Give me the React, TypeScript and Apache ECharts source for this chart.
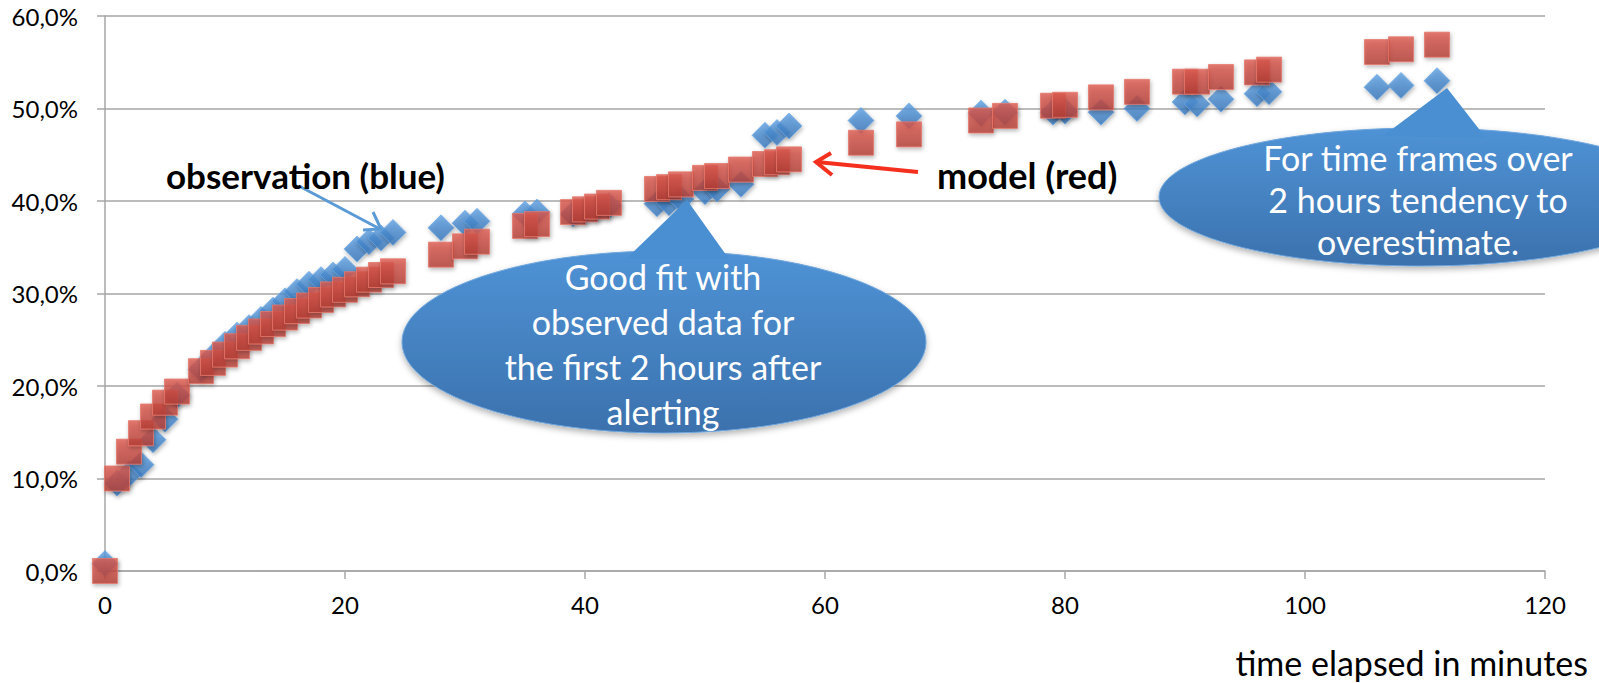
import React, { useEffect, useRef } from "react";
import * as echarts from "echarts";

const minutes = [0, 1, 2, 3, 4, 5, 6, 8, 9, 10, 11, 12, 13, 14, 15, 16, 17, 18, 19, 20, 21, 22, 23, 24, 28, 30, 31, 35, 36, 39, 40, 41, 42, 46, 47, 48, 50, 51, 53, 55, 56, 57, 63, 67, 73, 75, 79, 80, 83, 86, 90, 91, 93, 96, 97, 106, 108, 111];
const observed = [0.8, 9.5, 10.5, 11.5, 14.2, 16.4, 19.0, 21.8, 23.2, 24.5, 25.5, 26.3, 27.2, 28.2, 29.2, 30.2, 31.0, 31.5, 32.0, 32.6, 34.8, 35.6, 36.0, 36.6, 37.1, 37.6, 37.8, 38.6, 38.8, 38.6, 38.9, 39.2, 39.5, 39.7, 39.8, 40.2, 41.0, 41.3, 41.8, 47.1, 47.4, 48.1, 48.7, 49.2, 49.5, 49.6, 49.6, 49.7, 49.6, 50.0, 50.7, 50.5, 51.0, 51.6, 51.8, 52.3, 52.5, 53.0];
const model = [0, 10.0, 12.9, 14.9, 16.7, 18.2, 19.4, 21.6, 22.5, 23.4, 24.3, 25.2, 25.9, 26.7, 27.4, 28.1, 28.7, 29.3, 29.9, 30.4, 31.0, 31.5, 32.0, 32.4, 34.2, 35.1, 35.6, 37.3, 37.5, 38.8, 39.1, 39.4, 39.8, 41.3, 41.5, 41.8, 42.5, 42.7, 43.4, 44.0, 44.2, 44.5, 46.3, 47.2, 48.7, 49.2, 50.3, 50.4, 51.2, 51.8, 52.9, 52.9, 53.4, 53.9, 54.2, 56.1, 56.4, 56.9];

const xTicks = { min: 0, max: 120, interval: 20 };
const yTicks = { min: 0, max: 60, interval: 10 };

const xAxisTitle = "time elapsed in minutes";
const observationLabel = "observation (blue)";
const modelLabel = "model (red)";
const bubble1Text = "Good fit with\nobserved data for\nthe first 2 hours after\nalerting";
const bubble2Text = "For time frames over\n2 hours tendency to\noverestimate.";

const FONT = "Lato, 'Open Sans', sans-serif";

export default function App() {
  const ref = useRef<HTMLDivElement>(null);
  useEffect(() => {
    if (!ref.current) return;
    const chart = echarts.init(ref.current, null, { renderer: "svg" });
    const blueGrad = new echarts.graphic.LinearGradient(0, 0, 0, 1, [
      { offset: 0, color: "#5da0e2" },
      { offset: 1, color: "#3675ba" },
    ]);
    const redGrad = new echarts.graphic.LinearGradient(0, 0, 0, 1, [
      { offset: 0, color: "#dd5a4f" },
      { offset: 1, color: "#b43e36" },
    ]);
    const bubbleGrad = () =>
      new echarts.graphic.LinearGradient(0, 0, 0, 1, [
        { offset: 0, color: "#4f93d6" },
        { offset: 1, color: "#3b71ad" },
      ]);
    const pointerColor = "#4b8fd3";

    const obsData = minutes.map((m, i) => [m, observed[i]]);
    const modData = minutes.map((m, i) => [m, model[i]]);

    chart.setOption({
      animation: false,
      backgroundColor: "#ffffff",
      grid: { left: 105, right: 54, top: 16, bottom: 112, containLabel: false },
      xAxis: {
        type: "value",
        ...xTicks,
        axisLine: { show: true, lineStyle: { color: "#a6a6a6", width: 1.5 } },
        axisTick: { show: true, length: 8, lineStyle: { color: "#a6a6a6", width: 1.5 } },
        splitLine: { show: false },
        axisLabel: { color: "#000", fontSize: 24, fontFamily: FONT, margin: 21 },
      },
      yAxis: {
        type: "value",
        ...yTicks,
        axisLine: { show: true, lineStyle: { color: "#a6a6a6", width: 1.5 } },
        axisTick: { show: true, length: 8, lineStyle: { color: "#a6a6a6", width: 1.5 } },
        splitLine: { show: true, lineStyle: { color: "#a6a6a6", width: 1.5 } },
        axisLabel: {
          color: "#000",
          fontSize: 24,
          fontFamily: FONT,
          margin: 27,
          formatter: (v: number) => v.toFixed(1).replace(".", ",") + "%",
        },
      },
      series: [
        {
          name: "observation",
          type: "scatter",
          symbol: "diamond",
          symbolSize: 26,
          data: obsData,
          itemStyle: {
            color: blueGrad,
            borderColor: "#6aa8e6",
            borderWidth: 0.8,
            shadowBlur: 4,
            shadowOffsetX: 1,
            shadowOffsetY: 2,
            shadowColor: "rgba(0,0,0,0.35)",
          },
          z: 2,
        },
        {
          name: "model",
          type: "scatter",
          symbol: "rect",
          symbolSize: 25,
          data: modData,
          itemStyle: {
            color: redGrad,
            borderColor: "#e6786c",
            borderWidth: 1,
            shadowBlur: 4,
            shadowOffsetX: 1,
            shadowOffsetY: 2,
            shadowColor: "rgba(0,0,0,0.35)",
          },
          z: 3,
        },
      ],
      graphic: [
        // Blue arrow
        {
          type: "line",
          z: 100,
          shape: { x1: 299, y1: 186, x2: 380, y2: 229 },
          style: { stroke: "#5b9bd5", lineWidth: 3 },
        },
        {
          type: "polyline",
          z: 100,
          shape: { points: [[373, 212], [381, 229], [363, 230]] },
          style: { stroke: "#5b9bd5", lineWidth: 3, fill: null },
        },
        // Red arrow
        {
          type: "line",
          z: 100,
          shape: { x1: 918, y1: 172, x2: 817, y2: 162 },
          style: { stroke: "#f52f1d", lineWidth: 4 },
        },
        {
          type: "polyline",
          z: 100,
          shape: { points: [[831, 153], [816, 162], [832, 175]] },
          style: { stroke: "#f52f1d", lineWidth: 4, fill: null },
        },
        {
          type: "text",
          z: 100,
          x: 166,
          y: 175,
          style: {
            text: observationLabel,
            fill: "#000",
            fontSize: 35,
            fontWeight: "bold",
            fontFamily: FONT,
            align: "left",
            verticalAlign: "middle",
          },
        },
        {
          type: "text",
          z: 100,
          x: 937,
          y: 175,
          style: {
            text: modelLabel,
            fill: "#000",
            fontSize: 36,
            fontWeight: "bold",
            fontFamily: FONT,
            align: "left",
            verticalAlign: "middle",
          },
        },
        // Bubble 1
        {
          type: "ellipse",
          z: 100,
          shape: { cx: 664, cy: 342, rx: 262, ry: 91 },
          style: {
            fill: bubbleGrad(),
            stroke: "#6fa6dc",
            lineWidth: 1,
            shadowBlur: 6,
            shadowOffsetY: 3,
            shadowColor: "rgba(0,0,0,0.3)",
          },
        },
        {
          type: "polygon",
          z: 101,
          shape: { points: [[626, 259], [687, 200], [729, 259]] },
          style: { fill: pointerColor },
        },
        {
          type: "text",
          z: 102,
          x: 663,
          y: 344,
          style: {
            text: bubble1Text,
            fill: "#ffffff",
            fontSize: 34,
            fontFamily: FONT,
            lineHeight: 45,
            align: "center",
            verticalAlign: "middle",
          },
        },
        // Bubble 2
        {
          type: "ellipse",
          z: 100,
          shape: { cx: 1421, cy: 197, rx: 262, ry: 69 },
          style: {
            fill: bubbleGrad(),
            stroke: "#6fa6dc",
            lineWidth: 1,
            shadowBlur: 6,
            shadowOffsetY: 3,
            shadowColor: "rgba(0,0,0,0.3)",
          },
        },
        {
          type: "polygon",
          z: 101,
          shape: { points: [[1383, 136], [1447, 88], [1486, 138]] },
          style: { fill: pointerColor },
        },
        {
          type: "text",
          z: 102,
          x: 1418,
          y: 199,
          style: {
            text: bubble2Text,
            fill: "#ffffff",
            fontSize: 34,
            fontFamily: FONT,
            lineHeight: 42,
            align: "center",
            verticalAlign: "middle",
          },
        },
        // X axis title
        {
          type: "text",
          z: 100,
          x: 1588,
          y: 662,
          style: {
            text: xAxisTitle,
            fill: "#000",
            fontSize: 34,
            fontFamily: FONT,
            align: "right",
            verticalAlign: "middle",
          },
        },
      ],
    });
    return () => chart.dispose();
  }, []);
  return (
    <div
      ref={ref}
      style={{ position: "absolute", left: 0, top: 0, width: 1599, height: 683 }}
    />
  );
}
